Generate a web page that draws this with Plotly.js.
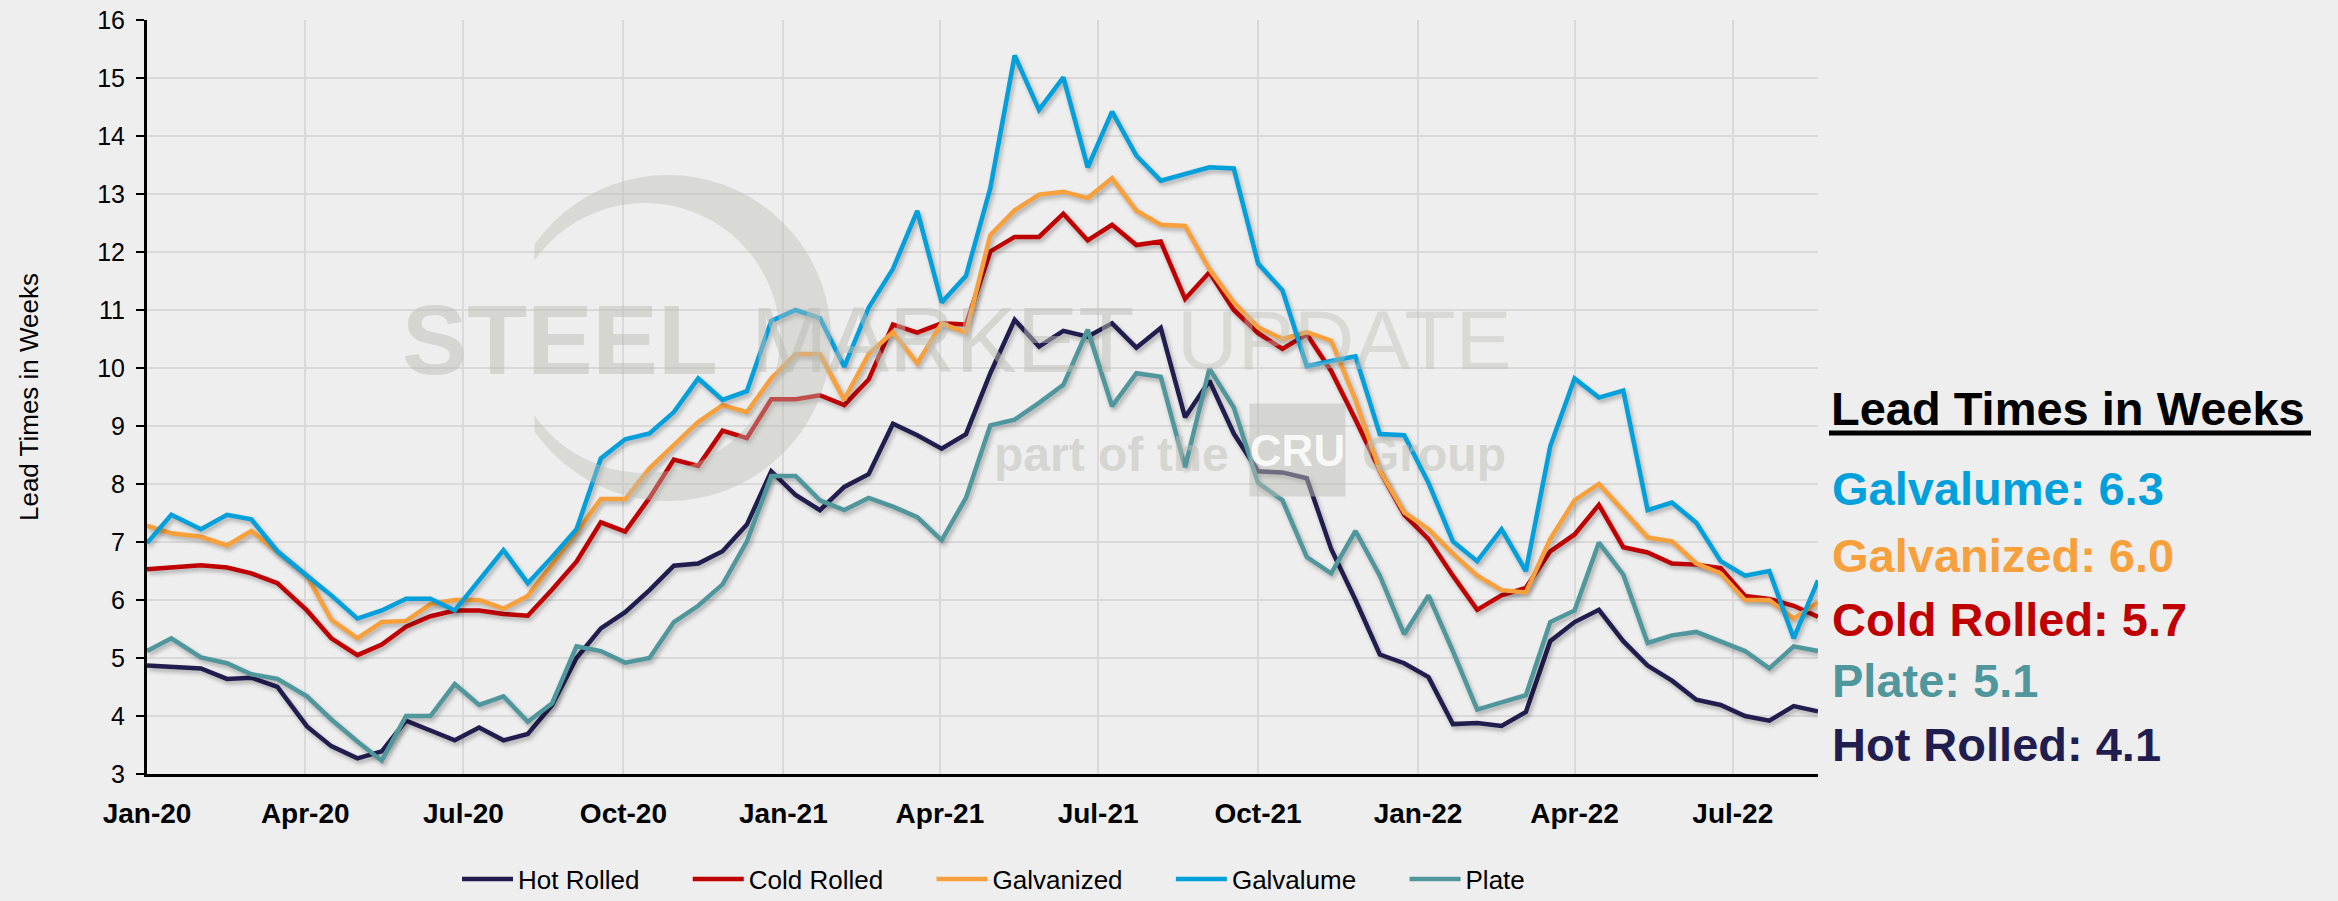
<!DOCTYPE html>
<html><head><meta charset="utf-8">
<script src="https://cdn.plot.ly/plotly-3.0.1.min.js"></script>
<style>
html,body{margin:0;padding:0;background:#eeeeee;}
#chart{width:2338px;height:901px;}
.scatterlayer .js-line{filter:drop-shadow(2px 3px 2px rgba(0,0,0,0.28));}
</style></head><body><div id="chart"></div>
<script>
const dates = [
 '2020-01-01','2020-01-15','2020-02-01','2020-02-16','2020-03-01','2020-03-16','2020-04-02','2020-04-16','2020-05-01','2020-05-15','2020-05-29','2020-06-12',
 '2020-06-26','2020-07-10','2020-07-24','2020-08-07','2020-08-21','2020-09-04','2020-09-18','2020-10-02','2020-10-16','2020-10-30','2020-11-13',
 '2020-11-27','2020-12-11','2020-12-25','2021-01-08','2021-01-22','2021-02-05','2021-02-19','2021-03-05','2021-03-19','2021-04-02','2021-04-16','2021-04-30',
 '2021-05-14','2021-05-28','2021-06-11','2021-06-25','2021-07-09','2021-07-23','2021-08-06','2021-08-20','2021-09-03','2021-09-17','2021-10-01',
 '2021-10-15','2021-10-29','2021-11-12','2021-11-26','2021-12-10','2021-12-24','2022-01-07','2022-01-21','2022-02-04','2022-02-18','2022-03-04','2022-03-18',
 '2022-04-01','2022-04-15','2022-04-29','2022-05-13','2022-05-27','2022-06-10','2022-06-24','2022-07-08','2022-07-22','2022-08-05','2022-08-19'];

const hotRolled = [4.87,4.84,4.82,4.64,4.66,4.50,3.82,3.48,3.27,3.39,3.92,3.75,
 3.58,3.80,3.58,3.69,4.19,5.00,5.51,5.79,6.17,6.59,6.63,
 6.84,7.30,8.22,7.81,7.55,7.95,8.17,9.04,8.84,8.61,8.86,9.91,
 10.83,10.37,10.64,10.54,10.77,10.35,10.69,9.15,9.78,8.87,8.22,
 8.20,8.10,6.88,6.00,5.06,4.91,4.67,3.86,3.88,3.83,4.07,5.29,
 5.62,5.83,5.29,4.87,4.61,4.28,4.19,4.00,3.92,4.17,4.08];

const coldRolled = [6.53,6.57,6.60,6.56,6.46,6.29,5.82,5.34,5.05,5.23,5.54,5.72,
 5.82,5.82,5.76,5.73,6.18,6.66,7.34,7.18,7.76,8.42,8.31,
 8.92,8.79,9.46,9.46,9.53,9.36,9.80,10.75,10.61,10.77,10.75,12.01,
 12.26,12.26,12.66,12.20,12.47,12.12,12.18,11.19,11.65,11.00,10.60,
 10.33,10.58,9.95,9.11,8.23,7.47,7.05,6.42,5.83,6.08,6.21,6.84,
 7.13,7.64,6.91,6.82,6.63,6.61,6.55,6.07,6.02,5.90,5.71];

const galvanized = [7.28,7.15,7.09,6.94,7.19,6.84,6.42,5.66,5.34,5.62,5.64,5.93,
 6.00,6.00,5.85,6.07,6.61,7.16,7.74,7.74,8.27,8.67,9.07,
 9.36,9.24,9.82,10.24,10.24,9.45,10.24,10.62,10.08,10.77,10.61,12.29,
 12.72,12.99,13.04,12.93,13.27,12.71,12.47,12.45,11.70,11.13,10.70,
 10.50,10.62,10.47,9.45,8.23,7.51,7.22,6.80,6.42,6.17,6.13,7.05,
 7.72,8.00,7.55,7.08,7.01,6.63,6.46,6.00,6.00,5.68,5.96];

const galvalume = [6.98,7.47,7.22,7.47,7.39,6.84,6.42,6.08,5.68,5.82,6.02,6.02,
 5.82,6.34,6.86,6.29,6.74,7.22,8.44,8.77,8.87,9.24,9.82,
 9.45,9.60,10.81,11.00,10.86,10.02,11.04,11.71,12.71,11.13,11.59,13.10,
 15.39,14.45,15.01,13.46,14.42,13.66,13.23,13.35,13.46,13.44,11.80,
 11.34,10.03,10.12,10.20,8.86,8.84,8.02,7.01,6.67,7.22,6.50,8.65,
 9.82,9.49,9.61,7.55,7.68,7.33,6.67,6.42,6.50,5.34,6.34];

const plate = [5.12,5.34,5.01,4.91,4.72,4.64,4.34,3.94,3.56,3.23,4.00,4.00,
 4.55,4.19,4.34,3.90,4.22,5.20,5.12,4.92,5.00,5.62,5.90,
 6.27,7.01,8.14,8.14,7.72,7.55,7.76,7.61,7.43,7.03,7.76,9.01,
 9.11,9.40,9.71,10.66,9.34,9.91,9.85,8.29,9.99,9.32,8.02,
 7.72,6.74,6.46,7.19,6.42,5.41,6.08,5.12,4.11,4.24,4.36,5.62,
 5.82,6.99,6.44,5.26,5.39,5.45,5.29,5.12,4.82,5.20,5.12];

const tickDates = ['2020-01-01','2020-04-01','2020-07-01','2020-10-01','2021-01-01','2021-04-01','2021-07-01','2021-10-01','2022-01-01','2022-04-01','2022-07-01'];
const tickLabels = ['Jan-20','Apr-20','Jul-20','Oct-20','Jan-21','Apr-21','Jul-21','Oct-21','Jan-22','Apr-22','Jul-22'];
const yTicks = [3,4,5,6,7,8,9,10,11,12,13,14,15,16];

const seriesNames = ['Hot Rolled','Cold Rolled','Galvanized','Galvalume','Plate'];
const seriesValues = [hotRolled, coldRolled, galvanized, galvalume, plate];
const seriesColors = ['#221D4F','#C00000','#F7A03C','#00A0DC','#4F979C'];
const sideOrder = ['Galvalume','Galvanized','Cold Rolled','Plate','Hot Rolled'];

const FONT = '"Liberation Sans", Arial, sans-serif';
const W = 2338, H = 901, ML = 147, MR = 520, MT = 20, MB = 127;
const PW = W - ML - MR, PH = H - MT - MB;
const px = x => (x - ML) / PW;
const py = y => (H - MB - y) / PH;

const traces = seriesNames.map((n, i) => ({
  type: 'scatter', mode: 'lines', x: dates, y: seriesValues[i],
  name: n + '\u00a0\u00a0\u00a0\u00a0\u00a0\u00a0',
  line: {color: seriesColors[i], width: 4.5},
  hoverinfo: 'skip'
}));

const annotations = [];
const shapes = [];
// side panel
annotations.push({xref:'paper', yref:'paper', x: px(1829), y: py(408), xanchor:'left', yanchor:'middle',
  text:'<b>Lead Times in Weeks</b>', showarrow:false, font:{family:FONT, size:47, color:'#000000'}});
shapes.push({type:'line', xref:'paper', yref:'paper', x0:px(1829), x1:px(2311), y0:py(433), y1:py(433), line:{color:'#000000', width:5}});
const sideY = [488, 555, 619, 680, 744];
sideOrder.forEach((n, k) => {
  const i = seriesNames.indexOf(n);
  const v = seriesValues[i][seriesValues[i].length - 1];
  annotations.push({xref:'paper', yref:'paper', x: px(1830), y: py(sideY[k]), xanchor:'left', yanchor:'middle',
    text:'<b>' + n + ': ' + v.toFixed(1) + '</b>', showarrow:false, font:{family:FONT, size:47, color: seriesColors[i]}});
});
// watermark
const WM = 'rgba(188,188,180,0.5)';
annotations.push({xref:'paper', yref:'paper', x:px(400), y:py(340), xanchor:'left', yanchor:'middle', showarrow:false,
  text:'<b>STEEL</b>', font:{family:FONT, size:98, color:WM}});
annotations.push({xref:'paper', yref:'paper', x:px(749), y:py(340), xanchor:'left', yanchor:'middle', showarrow:false,
  text:'MARKET', font:{family:FONT, size:92, color:WM}});
annotations.push({xref:'paper', yref:'paper', x:px(1175), y:py(340), xanchor:'left', yanchor:'middle', showarrow:false,
  text:'UPDATE', font:{family:FONT, size:84, color:'rgba(188,188,180,0.42)'}});
annotations.push({xref:'paper', yref:'paper', x:px(992), y:py(455), xanchor:'left', yanchor:'middle', showarrow:false,
  text:'<b>part of the</b>', font:{family:FONT, size:48, color:WM}});
annotations.push({xref:'paper', yref:'paper', x:px(1297), y:py(450), xanchor:'center', yanchor:'middle', showarrow:false,
  text:'<b>CRU</b>', width:93, height:90, bgcolor:WM, font:{family:'"Liberation Sans Narrow", ' + FONT, size:44, color:'rgba(255,255,255,0.85)'}});
annotations.push({xref:'paper', yref:'paper', x:px(1360), y:py(455), xanchor:'left', yanchor:'middle', showarrow:false,
  text:'<b>Group</b>', font:{family:FONT, size:48, color:WM}});
(function(){
  const pts = [];
  for (let a = 215; a <= 505; a += 5) { const r = a * Math.PI / 180; pts.push([668 + 163 * Math.cos(r), 338 + 163 * Math.sin(r)]); }
  for (let a = 505; a >= 215; a -= 5) { const r = a * Math.PI / 180; pts.push([645 + 135 * Math.cos(r), 338 + 135 * Math.sin(r)]); }
  const path = 'M' + pts.map(p => px(p[0]).toFixed(5) + ',' + py(p[1]).toFixed(5)).join('L') + 'Z';
  shapes.push({type:'path', xref:'paper', yref:'paper', path: path, fillcolor:'rgba(188,188,180,0.42)', line:{width:0}, layer:'above'});
})();

const layout = {
  width: W, height: H,
  margin: {l: ML, r: MR, t: MT, b: MB, autoexpand: false},
  paper_bgcolor: '#eeeeee', plot_bgcolor: '#eeeeee',
  font: {family: FONT, color: '#000000'},
  showlegend: true,
  legend: {orientation: 'h', x: px(457), xanchor: 'left', y: py(879), yanchor: 'middle',
    font: {family: FONT, size: 26, color: '#000000'}, itemwidth: 51, bgcolor: 'rgba(0,0,0,0)', traceorder: 'normal'},
  xaxis: {type: 'date', range: ['2020-01-01', '2022-08-19'], tickmode: 'array', tickvals: tickDates, ticktext: tickLabels,
    tickfont: {family: FONT, size: 28, color: '#000000', weight: 'bold'}, ticks: '', ticklabelstandoff: 12,
    showgrid: true, gridcolor: '#d9d9d9', gridwidth: 2, showline: true, linecolor: '#000000', linewidth: 3,
    zeroline: false, fixedrange: true},
  yaxis: {range: [3, 16], tickmode: 'array', tickvals: yTicks, tickfont: {family: FONT, size: 25, color: '#000000'},
    ticks: 'outside', ticklen: 8, tickwidth: 2, tickcolor: '#000000', ticklabelstandoff: 6,
    showgrid: true, gridcolor: '#d9d9d9', gridwidth: 2, showline: true, linecolor: '#000000', linewidth: 3,
    zeroline: false, fixedrange: true,
    title: {text: 'Lead Times in Weeks', font: {family: FONT, size: 26, color: '#000000'}, standoff: 52}},
  annotations: annotations,
  shapes: shapes,
  hovermode: false
};

Plotly.newPlot('chart', traces, layout, {displayModeBar: false, staticPlot: true});
</script></body></html>
